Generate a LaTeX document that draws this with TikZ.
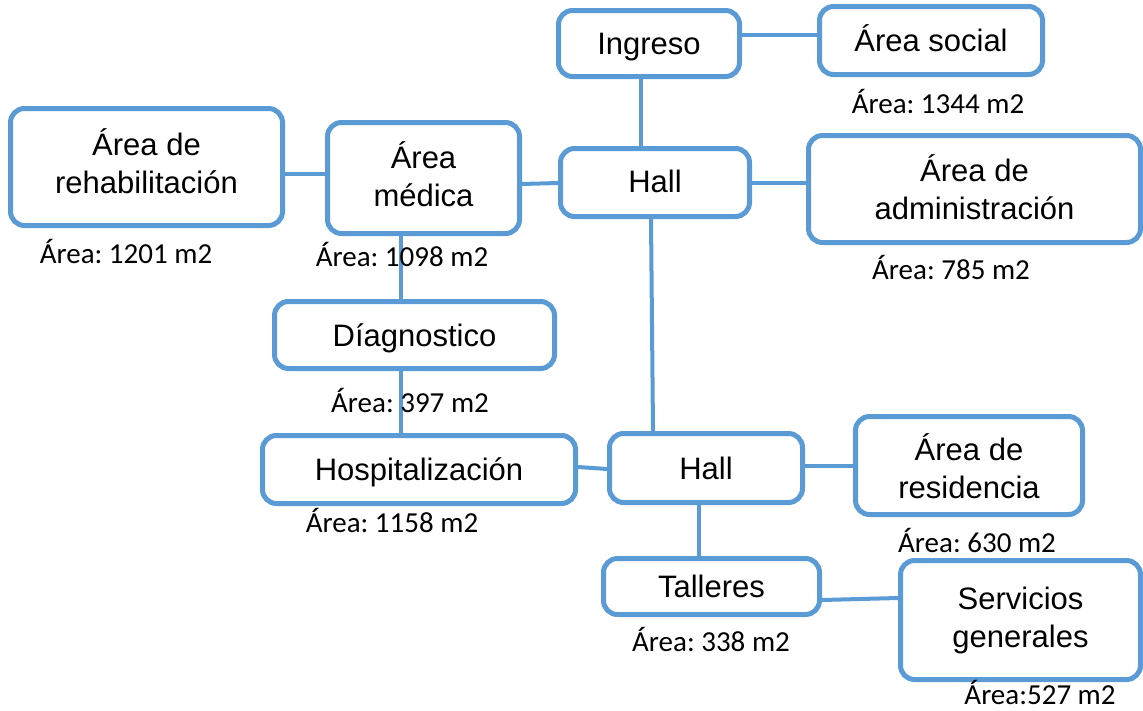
\documentclass[tikz,border=0pt]{standalone}
\usepackage{fontspec}
\setmainfont{Liberation Sans}
\newfontfamily\calfont{Carlito}
\definecolor{boxblue}{HTML}{5B9BD5}
\newcommand\lift[2]{\raisebox{#1}[\height][\depth]{\begin{tabular}{@{}c@{}}#2\end{tabular}}}
\tikzset{
  box/.style={draw=boxblue, line width=5pt, rounded corners=14pt, fill=white,
    align=center, inner sep=0pt, font=\fontsize{31}{38}\selectfont},
  oneline/.style={text height=22pt, text depth=0pt},
  conn/.style={draw=boxblue, line width=4pt},
  arealbl/.style={font=\calfont\frenchspacing\fontsize{29}{34}\selectfont, inner sep=0pt,
    text height=19pt, text depth=0pt}
}
\begin{document}
\begin{tikzpicture}[x=1pt,y=-1pt]
\useasboundingbox (0,0) rectangle (1143,710);
% boxes
\node[box, oneline, minimum width=181pt, minimum height=66pt] (ingreso) at (649,43.5) {Ingreso};
\node[box, oneline, minimum width=223pt, minimum height=68pt] (social) at (931,40.5) {Área social};
\node[box, oneline, minimum width=189pt, minimum height=68pt] (hall1) at (655,182.5) {\raisebox{1pt}{Hall}};
\node[box, minimum width=332pt, minimum height=107pt] (admin) at (974.5,189) {\lift{-4pt}{Área de\\administración}};
\node[box, minimum width=192pt, minimum height=111pt] (medica) at (423.5,178) {\lift{-2pt}{Área\\médica}};
\node[box, minimum width=272pt, minimum height=117pt] (rehab) at (146.5,167) {\lift{0pt}{Área de\\rehabilitación}};
\node[box, oneline, minimum width=280pt, minimum height=67pt] (diag) at (414.5,335) {Díagnostico};
\node[box, oneline, minimum width=313pt, minimum height=68pt] (hosp) at (419,469.5) {Hospitalización};
\node[box, oneline, minimum width=193pt, minimum height=69pt] (hall2) at (706,468) {Hall};
\node[box, minimum width=227pt, minimum height=98pt] (resid) at (969,465.5) {\lift{-6pt}{Área de\\residencia}};
\node[box, oneline, minimum width=216pt, minimum height=56pt] (talleres) at (711.5,586.5) {Talleres};
\node[box, minimum width=240pt, minimum height=119pt] (serv) at (1020.5,620) {\lift{-1pt}{Servicios\\generales}};
% connectors
\draw[conn] (ingreso.east |- 0,35) -- (social.west |- 0,35);
\draw[conn] (ingreso.south -| 641,0) -- (hall1.north -| 641,0);
\draw[conn] (hall1.east |- 0,183) -- (admin.west |- 0,183);
\draw[conn] (medica.east |- 0,184) -- (hall1.west |- 0,183);
\draw[conn] (rehab.east |- 0,174) -- (medica.west |- 0,174);
\draw[conn] (medica.south -| 401,0) -- (diag.north -| 401,0);
\draw[conn] (diag.south -| 401,0) -- (hosp.north -| 401,0);
\draw[conn] (hosp.east |- 0,467) -- (hall2.west |- 0,469);
\draw[conn] (hall1.south -| 651,0) -- (hall2.north -| 653,0);
\draw[conn] (hall2.east |- 0,466) -- (resid.west |- 0,466);
\draw[conn] (hall2.south -| 699,0) -- (talleres.north -| 699,0);
\draw[conn] (talleres.east |- 0,600) -- (serv.west |- 0,598);
% area labels
\node[arealbl] (a1) at (938,104) {Área: 1344 m2};
\node[arealbl] (a2) at (951,270) {Área: 785 m2};
\node[arealbl] (a3) at (126,254) {Área: 1201 m2};
\node[arealbl] (a4) at (402,257) {Área: 1098 m2};
\node[arealbl] (a5) at (410,403) {Área: 397 m2};
\node[arealbl] (a6) at (392,523) {Área: 1158 m2};
\node[arealbl] (a7) at (977,543) {Área: 630 m2};
\node[arealbl] (a8) at (711,642) {Área: 338 m2};
\node[arealbl] (a9) at (1040,695) {Área:527 m2};
\end{tikzpicture}
\end{document}
